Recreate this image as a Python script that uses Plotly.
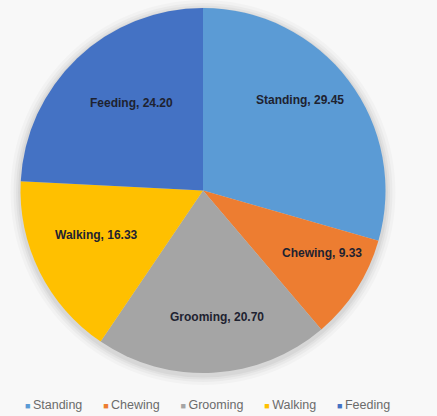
import math
import plotly.graph_objects as go

# Time budget per activity (%)
activities = ["Standing", "Chewing", "Grooming", "Walking", "Feeding"]
shares = [29.45, 9.33, 20.70, 16.33, 24.20]
colors = ["#5B9BD5", "#ED7D31", "#A5A5A5", "#FFC000", "#4472C4"]

W, H = 437, 416

# pie geometry in pixels (centre from the top-left corner, radius)
CX, CY, R = 203.0, 190.5, 182.5

# data-label placement: fraction of the radius and small angular nudge (deg)
label_radius = [0.73, 0.74, 0.695, 0.63, 0.62]
label_nudge = [-6.0, -5.0, -3.0, 4.0, 4.5]

fig = go.Figure(
    go.Pie(
        labels=activities,
        values=shares,
        sort=False,
        direction="clockwise",
        rotation=0,
        marker=dict(colors=colors, line=dict(width=0)),
        textinfo="none",
        hoverinfo="label+value",
        showlegend=False,
        domain=dict(x=[(CX - R) / W, (CX + R) / W], y=[1 - (CY + R) / H, 1 - (CY - R) / H]),
    )
)

# soft outer shadow around the pie
shapes = []
for grow, alpha in [(10, 0.025), (7, 0.03), (4.5, 0.035), (2.5, 0.045)]:
    shapes.append(dict(
        type="circle", layer="below",
        xref="paper", yref="paper",
        xsizemode="pixel", ysizemode="pixel",
        xanchor=CX / W, yanchor=1 - (CY + 2) / H,
        x0=-(R + grow), x1=R + grow, y0=-(R + grow), y1=R + grow,
        fillcolor=f"rgba(0,0,0,{alpha})", line=dict(width=0),
    ))

# data labels "Name, value" placed inside each slice
annotations = []
total = sum(shares)
cum = 0.0
for name, val, rf, nudge in zip(activities, shares, label_radius, label_nudge):
    mid = 360.0 * (cum + val / 2) / total + nudge
    cum += val
    t = math.radians(mid)
    px = CX + rf * R * math.sin(t)
    py = CY - rf * R * math.cos(t)
    annotations.append(dict(
        x=px / W, y=1 - py / H, xref="paper", yref="paper",
        xanchor="center", yanchor="middle", showarrow=False,
        text=f"<b>{name}, {val:.2f}</b>",
        font=dict(family="Liberation Sans", size=12, color="#1e2230"),
    ))

# legend row along the bottom
legend_items = [
    f"<span style='color:{c};font-size:9px'>■</span>\u2009{n}"
    for n, c in zip(activities, colors)
]
legend_gap = "\u00a0" * 6
annotations.append(dict(
    x=207 / W, y=1 - 405 / H, xref="paper", yref="paper",
    xanchor="center", yanchor="middle", showarrow=False,
    text=legend_gap.join(legend_items),
    font=dict(family="Liberation Sans", size=12.5, color="#6b6b6b"),
))

fig.update_layout(
    width=W,
    height=H,
    margin=dict(l=0, r=0, t=0, b=0),
    paper_bgcolor="#f8f8f8",
    plot_bgcolor="#f8f8f8",
    shapes=shapes,
    annotations=annotations,
)

fig.write_html("out.html")
